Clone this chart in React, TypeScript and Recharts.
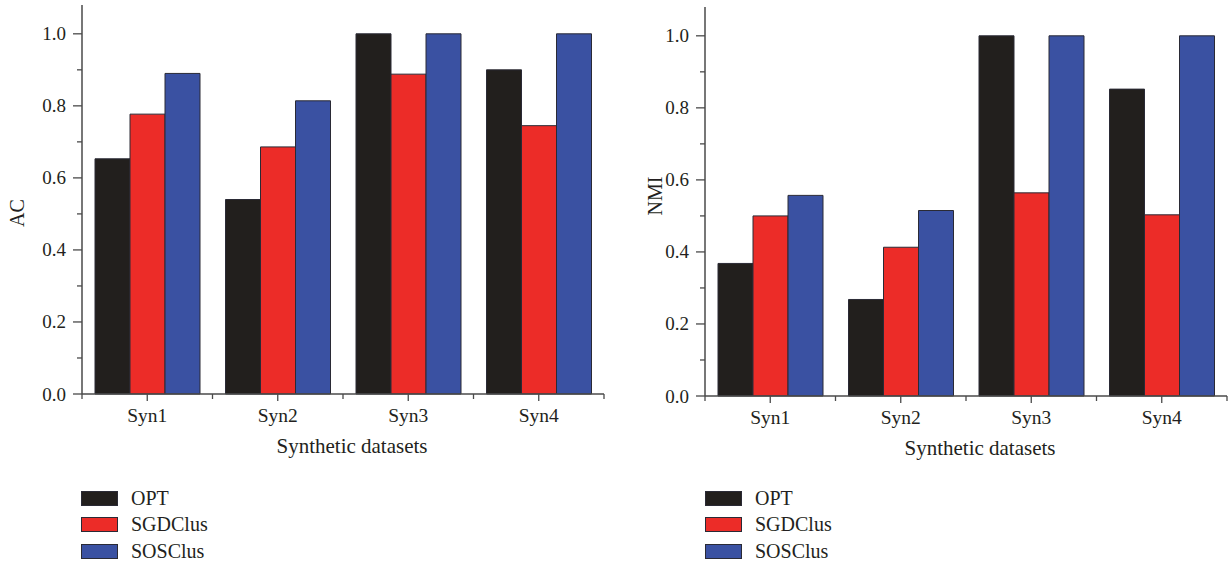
import React from "react";
import { BarChart, Bar, XAxis, YAxis, Label } from "recharts";

// categories and series
const datasets = ["Syn1", "Syn2", "Syn3", "Syn4"];
const acOPT = [0.653, 0.54, 1.0, 0.9];
const acSGDClus = [0.777, 0.686, 0.888, 0.745];
const acSOSClus = [0.89, 0.814, 1.0, 1.0];
const nmiOPT = [0.368, 0.268, 1.0, 0.852];
const nmiSGDClus = [0.5, 0.413, 0.564, 0.503];
const nmiSOSClus = [0.557, 0.515, 1.0, 1.0];
const yTicks = [0, 0.1, 0.2, 0.3, 0.4, 0.5, 0.6, 0.7, 0.8, 0.9, 1.0];

const seriesNames = ["OPT", "SGDClus", "SOSClus"];
const colors = ["#221f1d", "#ec2c28", "#3a51a2"];
const axisColor = "#4a4a4a";
const font = "'Liberation Serif', 'Times New Roman', serif";

const buildRows = (a: number[], b: number[], c: number[]) =>
  datasets.map((name, i) => ({ name, OPT: a[i], SGDClus: b[i], SOSClus: c[i] }));

const acData = buildRows(acOPT, acSGDClus, acSOSClus);
const nmiData = buildRows(nmiOPT, nmiSGDClus, nmiSOSClus);

const YTick = (props: any) => {
  const { x, y, payload } = props;
  const v = payload.value as number;
  const major = Math.round(v * 10) % 2 === 0;
  return (
    <g>
      <line x1={x} x2={x - (major ? 9 : 5)} y1={y} y2={y} stroke={axisColor} strokeWidth={1.3} />
      {major && (
        <text x={x - 16} y={y} dy={6.5} textAnchor="end" fontFamily={font} fontSize={19} fill="#231f20">
          {v.toFixed(1)}
        </text>
      )}
    </g>
  );
};

const XTick = (props: any) => {
  const { x, y, payload } = props;
  const half = payload.offset ?? 65;
  const isLast = payload.index === datasets.length - 1;
  return (
    <g>
      <line x1={x} x2={x} y1={y} y2={y + 7} stroke={axisColor} strokeWidth={1.3} />
      <line x1={x - half} x2={x - half} y1={y} y2={y + 5} stroke={axisColor} strokeWidth={1.3} />
      {isLast && <line x1={x + half} x2={x + half} y1={y} y2={y + 5} stroke={axisColor} strokeWidth={1.3} />}
      <text x={x} y={y + 28} textAnchor="middle" fontFamily={font} fontSize={19.5} fill="#231f20">
        {payload.value}
      </text>
    </g>
  );
};

type PanelProps = {
  data: any[];
  yLabel: string;
  left: number;
  width: number;
  yAxisWidth: number;
  marginRight: number;
  marginTop: number;
  yLabelX: number;
  yLabelY: number;
  xTitleShift: number;
};

const Panel = (p: PanelProps) => {
  const height = 470;
  return (
    <div style={{ position: "absolute", left: p.left, top: 0 }}>
      <BarChart
        width={p.width}
        height={height}
        data={p.data}
        margin={{ top: p.marginTop, right: p.marginRight, left: 0, bottom: 0 }}
        barGap={0}
        barCategoryGap="10%"
      >
        <XAxis
          dataKey="name"
          height={height - 394 - (p.marginTop - 5)}
          axisLine={{ stroke: axisColor, strokeWidth: 1.5 }}
          tickLine={false}
          tickSize={0}
          tickMargin={0}
          tick={<XTick />}
          interval={0}
        >
          <Label
            content={(lp: any) => {
              const vb = lp.viewBox;
              return (
                <text
                  x={vb.x + vb.width / 2 + p.xTitleShift}
                  y={vb.y + 59}
                  textAnchor="middle"
                  fontFamily={font}
                  fontSize={21}
                  fill="#231f20"
                >
                  Synthetic datasets
                </text>
              );
            }}
          />
        </XAxis>
        <YAxis
          width={p.yAxisWidth}
          domain={[0, 1.08]}
          ticks={yTicks}
          interval={0}
          axisLine={{ stroke: axisColor, strokeWidth: 1.5 }}
          tickLine={false}
          tickSize={0}
          tickMargin={0}
          tick={<YTick />}
        >
          <Label
            content={() => (
              <text
                x={p.yLabelX}
                y={p.yLabelY}
                textAnchor="middle"
                dominantBaseline="central"
                transform={`rotate(-90 ${p.yLabelX} ${p.yLabelY})`}
                fontFamily={font}
                fontSize={20}
                fill="#231f20"
              >
                {p.yLabel}
              </text>
            )}
          />
        </YAxis>
        {seriesNames.map((s, i) => (
          <Bar
            key={s}
            dataKey={s}
            fill={colors[i]}
            stroke="#2a2a35"
            strokeWidth={1}
            barSize={35}
            isAnimationActive={false}
          />
        ))}
      </BarChart>
    </div>
  );
};

const LegendBox = ({ left, top }: { left: number; top: number }) => (
  <div style={{ position: "absolute", left, top, fontFamily: font, fontSize: 20, color: "#231f20" }}>
    {seriesNames.map((s, i) => (
      <div key={s} style={{ display: "flex", alignItems: "center", height: 26.5 }}>
        <div
          style={{
            width: 35,
            height: 13,
            background: colors[i],
            border: "1px solid #2a2a35",
            marginRight: 13,
          }}
        />
        <span>{s}</span>
      </div>
    ))}
  </div>
);

export default function App() {
  return (
    <div style={{ position: "absolute", left: 0, top: 0, width: 1231, height: 565, background: "#fff" }}>
      <Panel
        data={acData}
        yLabel="AC"
        left={0}
        width={620}
        yAxisWidth={82}
        marginRight={16}
        marginTop={5}
        yLabelX={17}
        yLabelY={213}
        xTitleShift={9}
      />
      <Panel
        data={nmiData}
        yLabel="NMI"
        left={620}
        width={611}
        yAxisWidth={85}
        marginRight={4}
        marginTop={7}
        yLabelX={35}
        yLabelY={196}
        xTitleShift={14}
      />
      <LegendBox left={81} top={485} />
      <LegendBox left={705} top={485} />
    </div>
  );
}
